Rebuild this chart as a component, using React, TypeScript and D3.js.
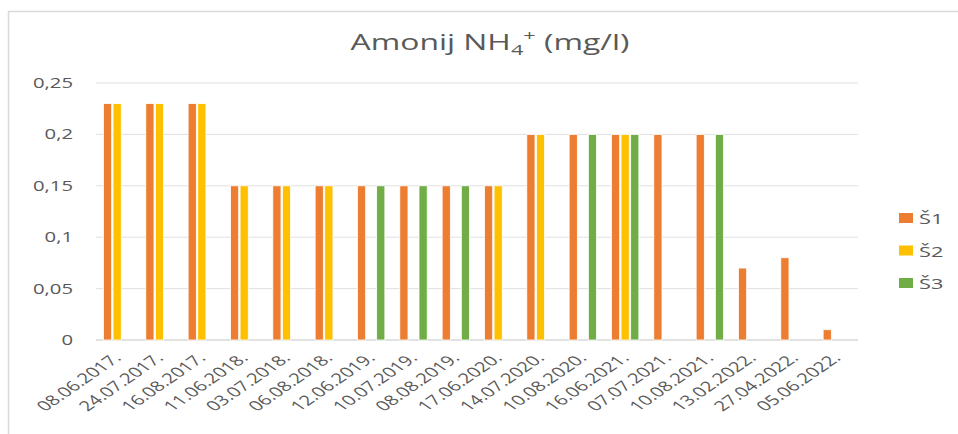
import React, { useEffect, useRef } from "react";
import * as d3 from "d3";

const dates = [
  "08.06.2017.", "24.07.2017.", "16.08.2017.", "11.06.2018.", "03.07.2018.", "06.08.2018.",
  "12.06.2019.", "10.07.2019.", "08.08.2019.", "17.06.2020.", "14.07.2020.", "10.08.2020.",
  "16.06.2021.", "07.07.2021.", "10.08.2021.", "13.02.2022.", "27.04.2022.", "05.06.2022.",
];
const s1 = [0.23, 0.23, 0.23, 0.15, 0.15, 0.15, 0.15, 0.15, 0.15, 0.15, 0.2, 0.2, 0.2, 0.2, 0.2, 0.07, 0.08, 0.01];
const s2 = [0.23, 0.23, 0.23, 0.15, 0.15, 0.15, null, null, null, 0.15, 0.2, null, 0.2, null, null, null, null, null];
const s3 = [null, null, null, null, null, null, 0.15, 0.15, 0.15, null, null, 0.2, 0.2, null, 0.2, null, null, null];
const seriesNames = ["Š1", "Š2", "Š3"];
const colors = ["#ED7D31", "#FFC000", "#70AD47"];
const yTicks = [0, 0.05, 0.1, 0.15, 0.2, 0.25];

const W = 958;
const H = 434;
const font = "'Open Sans', sans-serif";
const textColor = "#595959";
// the original picture is stretched sideways, text too
const sx = 1.45;

const App = () => {
  const svgRef = useRef<SVGSVGElement>(null);

  useEffect(() => {
    const svg = d3.select(svgRef.current);
    svg.selectAll("*").remove();

    const left = 96, right = 858, top = 83, bottom = 340;

    // chart frame
    svg.append("rect")
      .attr("x", 8.5).attr("y", 11.5)
      .attr("width", W + 20).attr("height", H + 20)
      .attr("fill", "white").attr("stroke", "#d9d9d9").attr("stroke-width", 1.5);

    svg.append("text")
      .attr("transform", `translate(490,50) scale(${sx},1)`)
      .attr("text-anchor", "middle")
      .attr("font-family", font).attr("font-size", 22).attr("fill", textColor)
      .call((t) => {
        t.append("tspan").text("Amonij NH");
        t.append("tspan").attr("font-size", 15).attr("dy", 5).text("4");
        t.append("tspan").attr("font-size", 15).attr("dy", -14).text("+");
        t.append("tspan").attr("dy", 9).text(" (mg/l)");
      });

    const x = d3.scaleBand().domain(dates).range([left, right]);
    const y = d3.scaleLinear().domain([0, 0.25]).range([bottom, top]);
    const fmt = (v: number) => String(v).replace(".", ",");

    // gridlines
    svg.append("g")
      .selectAll("line")
      .data(yTicks)
      .join("line")
      .attr("x1", left).attr("x2", right)
      .attr("y1", (d) => y(d)).attr("y2", (d) => y(d))
      .attr("stroke", (d) => (d === 0 ? "#d9d9d9" : "#e0e0e0"))
      .attr("stroke-width", (d) => (d === 0 ? 1.5 : 1));

    svg.append("g")
      .selectAll("text")
      .data(yTicks)
      .join("text")
      .attr("transform", (d) => `translate(73,${y(d) + 5}) scale(${sx},1)`)
      .attr("text-anchor", "end")
      .attr("font-family", font).attr("font-size", 14).attr("fill", textColor)
      .text((d) => fmt(d));

    // bars
    const pitch = 9.6;
    const bw = 8.2;
    const all = [s1, s2, s3];
    all.forEach((vals, si) => {
      svg.append("g")
        .selectAll("rect")
        .data(vals.map((v, i) => ({ v, d: dates[i] })).filter((p) => p.v != null))
        .join("rect")
        .attr("x", (p) => x(p.d)! + x.bandwidth() / 2 + (si - 1) * pitch - bw / 2)
        .attr("width", bw)
        .attr("y", (p) => y(p.v as number))
        .attr("height", (p) => bottom - y(p.v as number))
        .attr("fill", colors[si])
        .attr("stroke", "white").attr("stroke-width", 0.8);
    });

    // x labels
    svg.append("g")
      .selectAll("text")
      .data(dates)
      .join("text")
      .attr("transform", (d) => `translate(${x(d)! + x.bandwidth() / 2 + 5},${bottom + 19}) scale(${sx},1) rotate(-45)`)
      .attr("text-anchor", "end")
      .attr("font-family", font).attr("font-size", 14).attr("fill", textColor)
      .text((d) => d);

    // legend
    const lg = svg.append("g").attr("transform", "translate(899,0)");
    seriesNames.forEach((n, i) => {
      const cy = 218 + i * 32.5;
      lg.append("rect").attr("x", 0).attr("y", cy - 5).attr("width", 14).attr("height", 10).attr("fill", colors[i]);
      lg.append("text")
        .attr("transform", `translate(20,${cy + 6}) scale(${sx},1)`)
        .attr("font-family", font).attr("font-size", 15).attr("fill", textColor)
        .text(n);
    });
  }, []);

  return (
    <div style={{ position: "absolute", left: 0, top: 0 }}>
      <svg ref={svgRef} width={W} height={H} style={{ display: "block", background: "white" }} />
    </div>
  );
};

export default App;
